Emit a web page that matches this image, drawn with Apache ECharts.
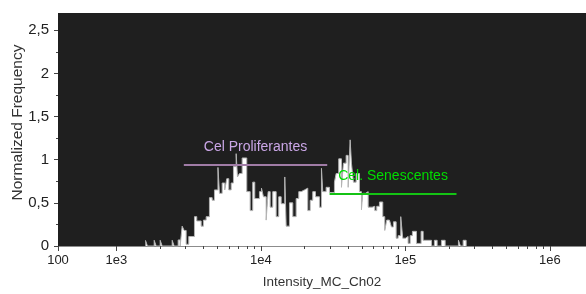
<!DOCTYPE html>
<html>
<head>
<meta charset="utf-8">
<script src="https://cdn.jsdelivr.net/npm/echarts@6/dist/echarts.min.js"></script>
<style>
  html, body { margin: 0; padding: 0; background: #ffffff; }
  #chart { width: 586px; height: 294px; }
</style>
</head>
<body>
<div id="chart"></div>
<script>
// histogram bins: left edge of each bin (intensity) and its normalized frequency
var binEdges = [1590, 1641, 1827, 1886, 2010, 2075, 2434, 2512, 2677, 2764,
    2853, 2945, 3041, 3170, 3471, 3601, 3863, 4007, 4183, 4408,
    4603, 4775, 5048, 5170, 5398, 5626, 5808, 5997, 6231, 6463,
    6747, 6888, 7111, 7424, 7663, 7988, 8433, 8790, 9075, 9779,
    10100, 10420, 10880, 11230, 11600, 12090, 12760, 13300, 13820, 14640,
    14970, 15780, 16630, 17550, 18300, 19010, 20030, 21120, 21940, 22870,
    23870, 25440, 26270, 26820, 28300, 29840, 32310, 33200, 34600, 36130,
    37290, 38930, 40200, 41500, 42370, 43740, 45650, 48130, 49690, 50730,
    52960, 55300, 58920, 61420, 63420, 66210, 69780, 72040, 74370, 77620,
    80130, 82730, 86370, 89170, 92950, 95950, 100200, 104500, 108000, 111960,
    119400, 128600, 132800, 151600, 159000, 166000, 177800, 188600, 233100, 240600,
    251200, 263500];
var binFreq = [0.066, 0, 0.066, 0, 0.066, 0, 0.066, 0, 0.07, 0,
    0.23, 0.18, 0.02, 0.11, 0.34, 0.29, 0.23, 0.30, 0.34, 0.56,
    0.53, 0.65, 0.91, 0.61, 0.73, 0.65, 0.78, 0.65, 0.73, 0.92,
    1.07, 0.80, 0.84, 1.02, 1.02, 0.63, 0.41, 0.74, 0.55, 0.63,
    0.67, 0.57, 0.30, 0.63, 0.45, 0.63, 0.34, 0.57, 0.49, 0.80,
    0.23, 0.50, 0.34, 0.55, 0.63, 0.65, 0.67, 0.41, 0.53, 0.63,
    0.57, 0.45, 0.90, 0.63, 0.68, 0.62, 0.74, 0.84, 1.01, 0.68,
    0.96, 1.05, 0.68, 1.23, 0.96, 0.74, 0.84, 0.63, 0.42, 0.61,
    0.63, 0.45, 0.46, 0.41, 0.46, 0.51, 0.34, 0.18, 0.30, 0.32,
    0.22, 0.28, 0.09, 0.12, 0.34, 0.09, 0.11, 0.03, 0.12, 0.17,
    0.03, 0.17, 0.066, 0, 0.066, 0, 0.066, 0, 0.066, 0,
    0.066, 0];

// gates
var gateNames = ['Cel Proliferantes', 'Cel. Senescentes'];
var gateLow = [2930, 29900];
var gateHigh = [28800, 226000];
var gateLevel = [0.94, 0.6];

// axes
var xTickValues = [100, 1000, 10000, 100000, 1000000];
var xTickLabels = ['100', '1e3', '1e4', '1e5', '1e6'];
var xMinorTicks = [2000, 3000, 4000, 5000, 6000, 7000, 8000, 9000,
    20000, 30000, 40000, 50000, 60000, 70000, 80000, 90000,
    200000, 300000, 400000, 500000, 600000, 700000, 800000, 900000];
var xRange = [100, 1780000];
var yTickValues = [0, 0.5, 1, 1.5, 2, 2.5];
var yMinorTicks = [0.25, 0.75, 1.25, 1.75, 2.25];
var yMax = 2.7;

var gateLineColors = ['#a07ca6', '#14c314'];
var gateTextColors = ['#caa6e6', '#00dc00'];

// the display axis is log above 1e3 and squeezed below it
function toAxis(v) {
    var l = Math.log10(v);
    if (v >= 1000) return l;
    return 3 - 0.404 * (3 - l);
}

var Chart = echarts.init(document.getElementById('chart'));

var histData = [];
for (var i = 0; i < binEdges.length; i++) {
    histData.push([toAxis(binEdges[i]), binFreq[i]]);
}

var gateLines = [];
for (var g = 0; g < gateNames.length; g++) {
    var style = {color: gateLineColors[g], width: 2, type: 'solid'};
    var lbl = {
        show: true,
        position: 'insideMiddleTop',
        formatter: gateNames[g],
        color: gateTextColors[g],
        fontSize: 14,
        distance: 11
    };
    gateLines.push([
        {coord: [toAxis(gateLow[g]), gateLevel[g]], lineStyle: style, label: lbl},
        {coord: [toAxis(gateHigh[g]), gateLevel[g]], lineStyle: style, label: lbl}
    ]);
}

var majorX = xTickValues.map(toAxis);
var minorX = xMinorTicks.map(toAxis);

function xLabel(val) {
    for (var i = 0; i < majorX.length; i++) {
        if (Math.abs(majorX[i] - val) < 1e-6) return xTickLabels[i];
    }
    return '';
}

var option = {
    animation: false,
    backgroundColor: '#ffffff',
    textStyle: {fontFamily: 'Liberation Sans, Arial, sans-serif'},
    grid: {
        left: 58,
        right: 0,
        top: 13,
        bottom: 48,
        containLabel: false,
        outerBoundsMode: 'none',
        show: true,
        backgroundColor: '#1f1f1f',
        borderWidth: 0
    },
    xAxis: [{
        type: 'value',
        position: 'bottom',
        min: toAxis(xRange[0]),
        max: toAxis(xRange[1]),
        name: 'Intensity_MC_Ch02',
        nameLocation: 'middle',
        nameGap: 29,
        nameMoveOverlap: false,
        nameTextStyle: {fontSize: 13.5, color: '#333'},
        axisLine: {show: true, lineStyle: {color: '#8c8c8c', width: 1}},
        axisTick: {show: true, customValues: majorX, length: 5, lineStyle: {color: '#444'}},
        axisLabel: {customValues: majorX, formatter: xLabel, fontSize: 13, color: '#222', margin: 8},
        splitLine: {show: false}
    }, {
        type: 'value',
        position: 'bottom',
        min: toAxis(xRange[0]),
        max: toAxis(xRange[1]),
        axisLine: {show: false},
        axisTick: {show: true, customValues: minorX, length: 3, lineStyle: {color: '#444'}},
        axisLabel: {show: false},
        splitLine: {show: false}
    }],
    yAxis: [{
        type: 'value',
        position: 'left',
        min: 0,
        max: yMax,
        name: 'Normalized Frequency',
        nameLocation: 'middle',
        nameGap: 32,
        nameMoveOverlap: false,
        nameTextStyle: {fontSize: 15.5, color: '#333', padding: [0, 0, 0, 14]},
        axisLine: {show: false},
        axisTick: {show: true, customValues: yTickValues, length: 4, lineStyle: {color: '#444'}},
        axisLabel: {
            customValues: yTickValues,
            fontSize: 15,
            color: '#222',
            margin: 9,
            formatter: function (v) { return String(v).replace('.', ','); }
        },
        splitLine: {show: false}
    }, {
        type: 'value',
        position: 'left',
        min: 0,
        max: yMax,
        axisLine: {show: false},
        axisTick: {show: true, customValues: yMinorTicks, length: 2, lineStyle: {color: '#444'}},
        axisLabel: {show: false},
        splitLine: {show: false}
    }],
    series: [{
        type: 'line',
        xAxisIndex: 0,
        yAxisIndex: 0,
        step: 'end',
        symbol: 'none',
        silent: true,
        data: histData,
        lineStyle: {color: '#b4b4b4', width: 1},
        areaStyle: {color: '#ffffff', opacity: 1},
        markLine: {
            silent: true,
            symbol: ['none', 'none'],
            animation: false,
            data: gateLines
        }
    }]
};

Chart.setOption(option);
</script>
</body>
</html>
